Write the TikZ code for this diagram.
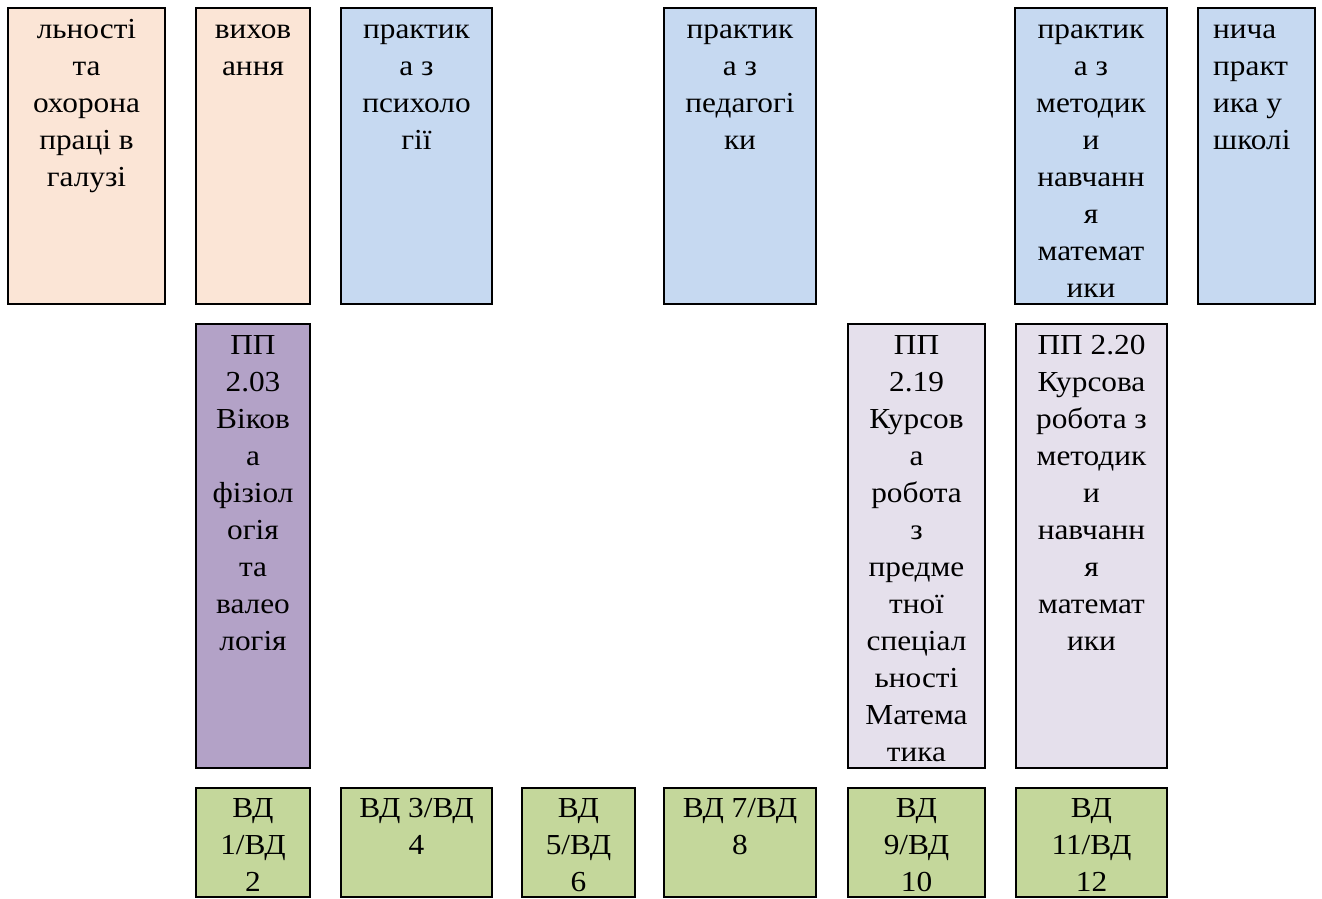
\documentclass[tikz,border=0pt]{standalone}
\usepackage{fontspec}
\setmainfont{Liberation Serif}
\newfontfamily\tnr[FakeStretch=1.08]{Liberation Serif}
\definecolor{peach}{HTML}{FBE5D6}
\definecolor{paleblue}{HTML}{C6D9F1}
\definecolor{purp}{HTML}{B3A2C7}
\definecolor{lav}{HTML}{E5E0EC}
\definecolor{grn}{HTML}{C4D79B}
\tikzset{
  cellbox/.style={draw=black, line width=2pt, inner sep=0pt, outer sep=0pt, anchor=north west},
  celltxt/.style={font=\tnr\fontsize{29}{37}\selectfont, align=center, inner sep=0pt, anchor=north},
  celltxtl/.style={font=\tnr\fontsize{29}{37}\selectfont, align=left, inner sep=0pt, anchor=north west},
}
\begin{document}
\begin{tikzpicture}[x=1pt, y=-1pt]
\useasboundingbox (0,0) rectangle (1322,899);
% row 1
\node[cellbox, fill=peach, minimum width=157pt, minimum height=296pt] (a) at (8,8) {};
\node[celltxt] (at) at ([yshift=-4pt]a.north) {\strut льності\\та\\охорона\\праці в\\галузі};
\node[cellbox, fill=peach, minimum width=114pt, minimum height=296pt] (b) at (196,8) {};
\node[celltxt] (bt) at ([yshift=-4pt]b.north) {\strut вихов\\ання};
\node[cellbox, fill=paleblue, minimum width=151pt, minimum height=296pt] (c) at (341,8) {};
\node[celltxt] (ct) at ([yshift=-4pt]c.north) {\strut практик\\а з\\психоло\\гії};
\node[cellbox, fill=paleblue, minimum width=152pt, minimum height=296pt] (d) at (664,8) {};
\node[celltxt] (dt) at ([yshift=-4pt]d.north) {\strut практик\\а з\\педагогі\\ки};
\node[cellbox, fill=paleblue, minimum width=152pt, minimum height=296pt] (e) at (1015,8) {};
\node[celltxt] (et) at ([yshift=-4pt]e.north) {\strut практик\\а з\\методик\\и\\навчанн\\я\\математ\\ики};
\node[cellbox, fill=paleblue, minimum width=117pt, minimum height=296pt] (f) at (1198,8) {};
\node[celltxtl] (ft) at ([xshift=15pt, yshift=-4pt]f.north west) {\strut нича\\практ\\ика у\\школі};
% row 2
\node[cellbox, fill=purp, minimum width=114pt, minimum height=444pt] (g) at (196,324) {};
\node[celltxt] (gt) at ([yshift=-4pt]g.north) {\strut ПП\\2.03\\Віков\\а\\фізіол\\огія\\та\\валео\\логія};
\node[cellbox, fill=lav, minimum width=137pt, minimum height=444pt] (h) at (848,324) {};
\node[celltxt] (ht) at ([yshift=-4pt]h.north) {\strut ПП\\2.19\\Курсов\\а\\робота\\з\\предме\\тної\\спеціал\\ьності\\Матема\\тика};
\node[cellbox, fill=lav, minimum width=151pt, minimum height=444pt] (i) at (1016,324) {};
\node[celltxt] (it) at ([yshift=-4pt]i.north) {\strut ПП 2.20\\Курсова\\робота з\\методик\\и\\навчанн\\я\\математ\\ики};
% row 3
\node[cellbox, fill=grn, minimum width=114pt, minimum height=109pt] (j) at (196,788) {};
\node[celltxt] (jt) at ([yshift=-3pt]j.north) {\strut ВД\\1/ВД\\2};
\node[cellbox, fill=grn, minimum width=151pt, minimum height=109pt] (k) at (341,788) {};
\node[celltxt] (kt) at ([yshift=-3pt]k.north) {\strut ВД 3/ВД\\4};
\node[cellbox, fill=grn, minimum width=113pt, minimum height=109pt] (l) at (522,788) {};
\node[celltxt] (lt) at ([yshift=-3pt]l.north) {\strut ВД\\5/ВД\\6};
\node[cellbox, fill=grn, minimum width=152pt, minimum height=109pt] (m) at (664,788) {};
\node[celltxt] (mt) at ([yshift=-3pt]m.north) {\strut ВД 7/ВД\\8};
\node[cellbox, fill=grn, minimum width=137pt, minimum height=109pt] (n) at (848,788) {};
\node[celltxt] (nt) at ([yshift=-3pt]n.north) {\strut ВД\\9/ВД\\10};
\node[cellbox, fill=grn, minimum width=151pt, minimum height=109pt] (o) at (1016,788) {};
\node[celltxt] (ot) at ([yshift=-3pt]o.north) {\strut ВД\\11/ВД\\12};
\end{tikzpicture}
\end{document}
